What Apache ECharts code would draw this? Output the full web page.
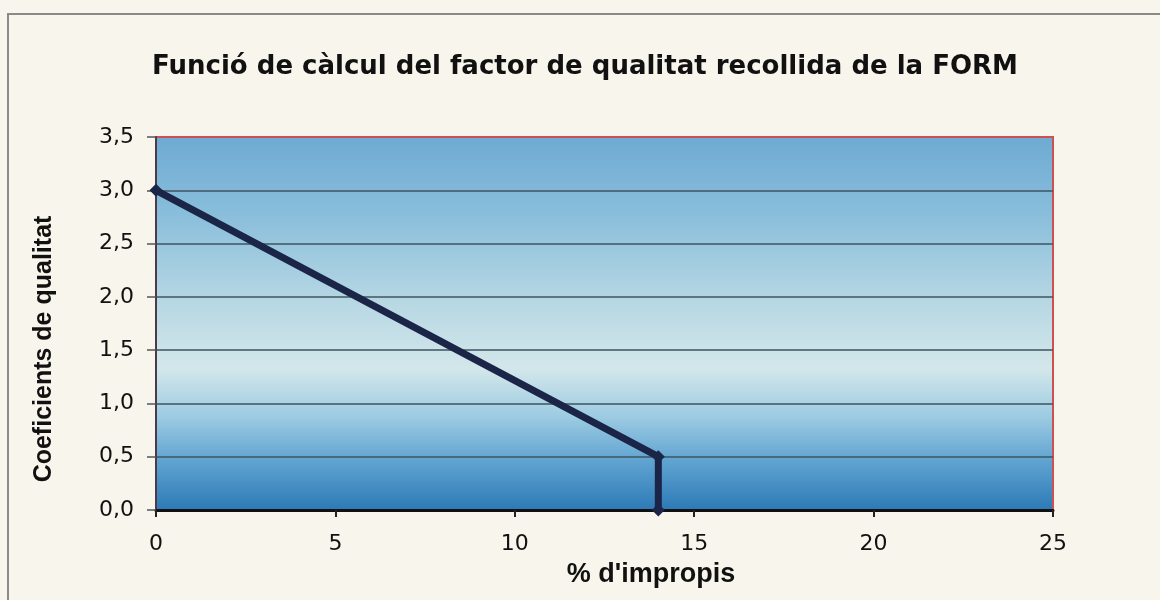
<!DOCTYPE html>
<html><head><meta charset="utf-8">
<script src="https://cdn.jsdelivr.net/npm/echarts@6/dist/echarts.min.js"></script>
<style>html,body{margin:0;padding:0;background:#f8f6ec}#c{width:1160px;height:600px}</style>
</head><body><div id="c"></div>
<script>
const titleText = "Funció de càlcul del factor de qualitat recollida de la FORM";
const xName = "% d'impropis";
const yName = "Coeficients de qualitat";
const xValues = [0, 14, 14];
const yValues = [3.0, 0.5, 0.0];

const chart = echarts.init(document.getElementById('c'));
const fmt = v => v.toFixed(1).replace('.', ',');
chart.setOption({
  backgroundColor: '#f8f6ec',
  animation: false,
  title: {text: titleText, left: 580, top: 49, textAlign: 'center',
    textStyle: {fontFamily: 'DejaVu Sans', fontWeight: 'bold', fontSize: 26, color: '#111'}},
  graphic: [
    {type: 'rect', shape: {x: 8, y: 14, width: 1200, height: 640},
      style: {fill: 'none', stroke: '#8a8a86', lineWidth: 2}, z: 100},
    {type: 'text', x: 44, y: 349, rotation: Math.PI / 2, z: 100,
      style: {text: yName, fill: '#111', font: 'bold 25px "Liberation Sans"',
        textAlign: 'center', textVerticalAlign: 'middle'}},
    {type: 'text', x: 651, y: 575, z: 100,
      style: {text: xName, fill: '#111', font: 'bold 27px "Liberation Sans"',
        textAlign: 'center', textVerticalAlign: 'middle'}}
  ],
  grid: {left: 156, right: 107, top: 137, bottom: 90, show: true,
    borderColor: '#cf5050', borderWidth: 2,
    backgroundColor: new echarts.graphic.LinearGradient(0, 0, 0, 1, [
      {offset: 0, color: '#6eaad2'},
      {offset: 0.2, color: '#88bddb'},
      {offset: 0.45, color: '#b8d8e4'},
      {offset: 0.62, color: '#d3e7ea'},
      {offset: 0.75, color: '#9ccbe2'},
      {offset: 0.87, color: '#5ea2d0'},
      {offset: 1, color: '#2c79b6'}])},
  xAxis: {type: 'value', min: 0, max: 25, interval: 5,
    axisLine: {show: true, onZero: false, lineStyle: {color: '#111', width: 3}},
    axisTick: {show: true, length: 7, lineStyle: {color: '#222', width: 2}},
    axisLabel: {fontFamily: 'DejaVu Sans', fontSize: 22, color: '#111', margin: 23},
    splitLine: {show: false}},
  yAxis: {type: 'value', min: 0, max: 3.5, interval: 0.5,
    axisLine: {show: true, lineStyle: {color: '#4a3a4a', width: 2}},
    axisTick: {show: true, length: 9, lineStyle: {color: '#555', width: 1.5}},
    axisLabel: {fontFamily: 'DejaVu Sans', fontSize: 22, color: '#111', margin: 22, formatter: fmt},
    splitLine: {show: true, showMaxLine: false, lineStyle: {color: '#3e5560', width: 1.5}}},
  series: [{type: 'line', data: xValues.map((x, i) => [x, yValues[i]]),
    symbol: 'diamond', symbolSize: 13, showSymbol: true,
    lineStyle: {color: '#1b2548', width: 7}, itemStyle: {color: '#1b2548'}, z: 5}]
});
</script></body></html>
